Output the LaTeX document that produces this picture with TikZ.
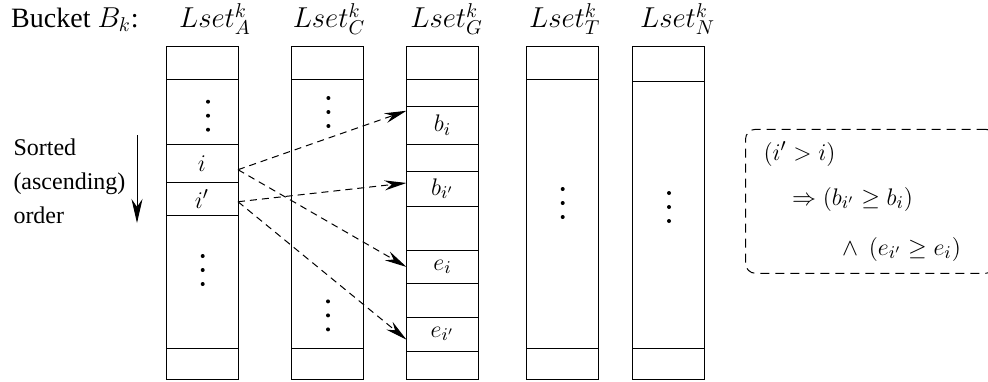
\documentclass[tikz,border=0pt]{standalone}
\usepackage[no-math]{fontspec}
\setmainfont{Liberation Serif}
\usetikzlibrary{positioning,arrows.meta}
\newcommand{\dotcol}[1]{\fill (#1) ++(0,7pt) circle (1pt) ++(0,-7pt) circle (1pt) ++(0,-7pt) circle (1pt);}

\begin{document}
\begin{tikzpicture}[
  font=\fontsize{13}{15}\selectfont, line width=0.5pt,
  node distance=0pt,
  cell/.style={draw, minimum width=36pt, inner sep=0pt, outer sep=0pt},
  head/.style={anchor=base, font=\fontsize{14}{16}\selectfont},
  arr/.style={-{Stealth[length=11pt,width=5pt]}, dash pattern=on 3.5pt off 2.5pt},
  sortarr/.style={-{Stealth[length=12pt,width=5.5pt]}}]
\useasboundingbox (0,0) rectangle (494pt,-190.5pt);
% headers
\node[head] (bucket) at (37.5pt,-13.75pt) {Bucket $B_k$:};
\node[head] (hA) at (107.5pt,-13.75pt) {$Lset^k_A$};
\node[head] (hC) at (164.5pt,-13.75pt) {$Lset^k_C$};
\node[head] (hG) at (223.3pt,-13.75pt) {$Lset^k_G$};
\node[head] (hT) at (282.4pt,-13.75pt) {$Lset^k_T$};
\node[head] (hN) at (338.8pt,-13.75pt) {$Lset^k_N$};
% column A
\node[cell, minimum height=16.15pt, anchor=north] (a1) at (101pt,-23.35pt) {};
\node[cell, minimum height=32.5pt, below=of a1] (a2) {};
\node[cell, minimum height=19.35pt, below=of a2] (i) {$i$};
\node[cell, minimum height=16.5pt, below=of i] (ip) {$i'$};
\node[cell, minimum height=66.15pt, below=of ip] (a5) {};
\node[cell, minimum height=15.5pt, below=of a5] (a6) {};
% column C
\node[cell, minimum height=16.15pt, anchor=north] (c1) at (163.75pt,-23.35pt) {};
\node[cell, minimum height=134.5pt, below=of c1] (c2) {};
\node[cell, minimum height=15.5pt, below=of c2] (c3) {};
% column G
\node[cell, minimum height=16.15pt, anchor=north] (g1) at (221.25pt,-23.35pt) {};
\node[cell, minimum height=13.65pt, below=of g1] (g2) {};
\node[cell, minimum height=19pt, below=of g2] (bi) {$b_i$};
\node[cell, minimum height=13.35pt, below=of bi] (g4) {};
\node[cell, minimum height=17.65pt, below=of g4] (bip) {$b_{i'}$};
\node[cell, minimum height=22pt, below=of bip] (g6) {};
\node[cell, minimum height=16.65pt, below=of g6] (ei) {$e_i$};
\node[cell, minimum height=16.7pt, below=of ei] (g8) {};
\node[cell, minimum height=17pt, below=of g8] (eip) {$e_{i'}$};
\node[cell, minimum height=14.15pt, below=of eip] (g10) {};
% column T
\node[cell, minimum height=16.3pt, anchor=north] (t1) at (281.25pt,-23.35pt) {};
\node[cell, minimum height=134.5pt, below=of t1] (t2) {};
\node[cell, minimum height=15.35pt, below=of t2] (t3) {};
% column N
\node[cell, minimum height=17.5pt, anchor=north] (n1) at (334.1pt,-23.35pt) {};
\node[cell, minimum height=133.3pt, below=of n1] (n2) {};
\node[cell, minimum height=15.35pt, below=of n2] (n3) {};
% dots
\dotcol{104pt,-57.85pt}
\dotcol{101.35pt,-135pt}
\dotcol{164.2pt,-56pt}
\dotcol{164pt,-157.7pt}
\dotcol{281.35pt,-101.5pt}
\dotcol{334.5pt,-103.5pt}
% sort order
\node[anchor=west, align=left, inner sep=0pt, font=\fontsize{12}{17}\selectfont] (sorted) at (6.5pt,-90.4pt) {Sorted\\(ascending)\\order};
\coordinate (stop) at (68.5pt,-67.5pt);
\coordinate (sbot) at (68.5pt,-111.5pt);
\draw[sortarr] (stop) -- (sbot);
% links
\draw[arr] (i.-10) -- (bi.158);
\draw[arr] (i.-10) -- (ei.west);
\draw[arr] (ip.-4) -- (bip.171);
\draw[arr] (ip.-4) -- (eip.-171);
% condition
\node[draw, dash pattern=on 4.5pt off 3pt, rounded corners=5pt, anchor=west, text width=107pt, align=left,
  inner xsep=9pt, minimum height=72pt, font=\fontsize{13}{16}\selectfont] (cond) at (372.5pt,-100.65pt)
  {$(i'>i)$\\[6.5pt] \hspace*{14.3pt}$\Rightarrow(b_{i'}\geq b_i)$\\[9pt] \hspace*{39.3pt}$\wedge\;\,(e_{i'}\geq e_i)$};
\end{tikzpicture}
\end{document}
